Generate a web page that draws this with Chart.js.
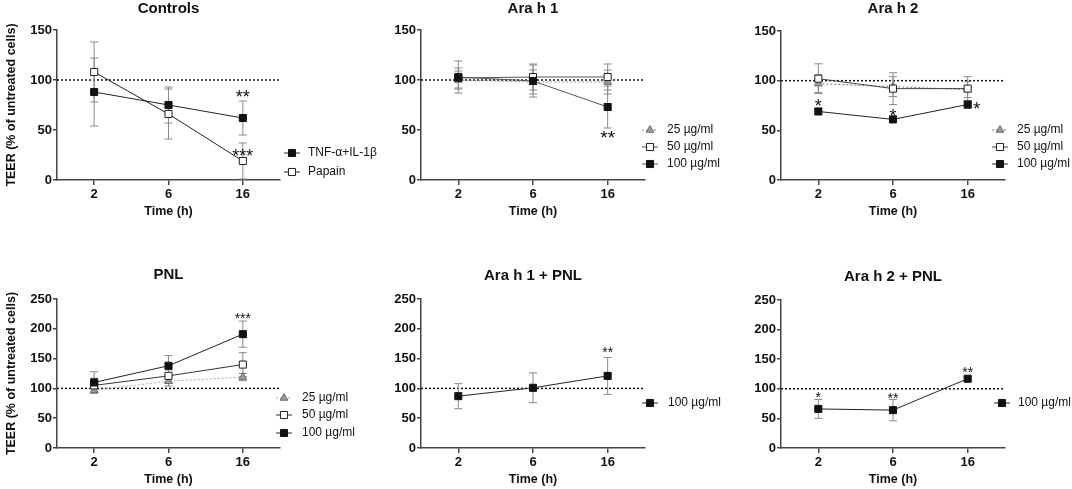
<!DOCTYPE html>
<html lang="en">
<head>
<meta charset="UTF-8">
<title>TEER time course</title>
<style>
  body { margin: 0; background: #ffffff; }
  #figure { position: relative; width: 1072px; height: 489px; overflow: hidden; }
  #figure canvas { position: absolute; }
</style>
<script src="https://cdn.jsdelivr.net/npm/chart.js"></script>
</head>
<body>
<div id="figure"></div>
<script>
// ---- data ----
const times = ['2', '6', '16'];
const ticksLow = [0, 50, 100, 150];
const ticksHigh = [0, 50, 100, 150, 200, 250];
const doseNames = ['25 µg/ml', '50 µg/ml', '100 µg/ml'];
const controlNames = ['TNF-α+IL-1β', 'Papain'];

// Controls
const ctrlTnf = [88, 75, 62];
const ctrlTnfSd = [34, 18, 17];
const ctrlPapain = [108, 66, 19];
const ctrlPapainSd = [30, 25, 18];

// Ara h 1
const ara1D25 = [100, 98, 98];
const ara1D25Sd = [9, 12, 12];
const ara1D50 = [102, 103, 103];
const ara1D50Sd = [10, 13, 13];
const ara1D100 = [103, 99, 73];
const ara1D100Sd = [16, 16, 21];

// Ara h 2
const ara2D25 = [97, 94, 91];
const ara2D25Sd = [9, 10, 8];
const ara2D50 = [102, 92, 92];
const ara2D50Sd = [15, 16, 12];
const ara2D100 = [69, 61, 76];
const ara2D100Sd = [3, 2, 4];

// PNL
const pnlD25 = [97, 112, 119];
const pnlD25Sd = [5, 8, 6];
const pnlD50 = [105, 121, 140];
const pnlD50Sd = [12, 10, 20];
const pnlD100 = [110, 138, 191];
const pnlD100Sd = [18, 17, 22];

// Ara h 1 + PNL, Ara h 2 + PNL (100 µg/ml)
const ara1Pnl = [87, 101, 121];
const ara1PnlSd = [21, 25, 31];
const ara2Pnl = [66, 64, 117];
const ara2PnlSd = [16, 18, 3];

// significance marks: category index, value, label
const starsControls = [[2, 87, '**'], [2, 28, '***']];
const starsAra1 = [[2, 47, '**']];
const starsAra2 = [[0, 79, '*'], [1, 69, '*'], [2, 76, '*']];
const starsPnl = [[2, 223, '***']];
const starsAra1Pnl = [[2, 166, '**']];
const starsAra2Pnl = [[0, 92, '*'], [1, 90, '**'], [2, 133, '**']];

// ---- styling ----
const FONT = '"Liberation Sans", Arial, sans-serif';
Chart.defaults.font.family = FONT;
const AXIS = '#444';
const INK = '#111';

const markers = {
  filled: { pointStyle: 'rect', pointRadius: 5, pointBackgroundColor: '#111', pointBorderColor: '#111' },
  open: { pointStyle: 'rect', pointRadius: 5, pointBackgroundColor: '#fff', pointBorderColor: '#222' },
  tri: { pointStyle: 'triangle', pointRadius: 4.5, pointBackgroundColor: '#9a9a9a', pointBorderColor: '#6e6e6e' }
};

function series(label, data, sd, marker, color, dash, order) {
  return Object.assign({
    label: label,
    data: data,
    errors: sd,
    borderColor: color,
    borderWidth: 1,
    borderDash: dash || [],
    pointBorderWidth: 1,
    pointHoverRadius: 5,
    tension: 0,
    fill: false,
    order: order
  }, markers[marker]);
}

// reference line, error bars, legend and asterisks
const extras = {
  id: 'extras',
  beforeDatasetsDraw(chart) {
    const { ctx, chartArea, scales: { x, y } } = chart;
    const y100 = y.getPixelForValue(100);
    ctx.save();
    ctx.strokeStyle = INK;
    ctx.lineWidth = 1.5;
    ctx.setLineDash([2, 2]);
    ctx.beginPath();
    ctx.moveTo(chartArea.left, y100);
    ctx.lineTo(chartArea.right, y100);
    ctx.stroke();
    ctx.setLineDash([]);

    ctx.strokeStyle = '#8a8a8a';
    ctx.lineWidth = 1;
    chart.data.datasets.forEach(ds => {
      ds.errors.forEach((e, j) => {
        const px = x.getPixelForValue(j);
        const top = y.getPixelForValue(ds.data[j] + e);
        const bot = y.getPixelForValue(ds.data[j] - e);
        ctx.beginPath();
        ctx.moveTo(px, top); ctx.lineTo(px, bot);
        ctx.moveTo(px - 4, top); ctx.lineTo(px + 4, top);
        ctx.moveTo(px - 4, bot); ctx.lineTo(px + 4, bot);
        ctx.stroke();
      });
    });
    ctx.restore();
  },
  afterDraw(chart, args, opts) {
    const { ctx, scales: { x, y } } = chart;
    ctx.save();
    // legend
    opts.legend.rows.forEach((ly, k) => {
      const ds = chart.data.datasets[opts.legend.items[k]];
      const lx = opts.legend.x;
      ctx.strokeStyle = ds.borderColor;
      ctx.lineWidth = 1;
      ctx.setLineDash(ds.borderDash);
      ctx.beginPath();
      ctx.moveTo(lx - 8, ly);
      ctx.lineTo(lx + 8, ly);
      ctx.stroke();
      ctx.setLineDash([]);
      ctx.fillStyle = ds.pointBackgroundColor;
      ctx.strokeStyle = ds.pointBorderColor;
      Chart.helpers.drawPoint(ctx, { pointStyle: ds.pointStyle, radius: ds.pointRadius, borderWidth: 1, rotation: 0 }, lx, ly);
      ctx.fillStyle = INK;
      ctx.font = '12px ' + FONT;
      ctx.textAlign = 'left';
      ctx.textBaseline = 'middle';
      ctx.fillText(ds.label, opts.legend.textX, ly);
    });
    // asterisks
    ctx.fillStyle = INK;
    ctx.textAlign = 'center';
    ctx.textBaseline = 'alphabetic';
    ctx.font = opts.starSize + 'px ' + FONT;
    opts.stars.forEach(([i, v, t]) => {
      const dx = (opts.starShift && opts.starShift[i]) || 0;
      ctx.fillText(t, x.getPixelForValue(i) + dx, y.getPixelForValue(v) + opts.starSize * 0.58);
    });
    ctx.restore();
  }
};

function panel(box, title, yMax, yTicks, yTitle, datasets, legend, stars, starSize, starShift) {
  const canvas = document.createElement('canvas');
  canvas.width = box.width;
  canvas.height = box.height;
  canvas.style.left = box.left + 'px';
  canvas.style.top = box.top + 'px';
  document.getElementById('figure').appendChild(canvas);

  const yAxisWidth = box.plotL - box.left;
  const xAxisHeight = box.top + box.height - box.plotB;
  const titleTop = Math.max(0, box.titleY - box.top - 9);
  const titleBottom = box.plotT - box.top - titleTop - 18;
  const xTitleBottom = box.top + box.height - box.xTitleY - 7.5;
  const tickFont = { size: 13, weight: 'bold' };
  const labelFont = { size: 12.5, weight: 'bold' };

  new Chart(canvas, {
    type: 'line',
    data: { labels: times, datasets: datasets },
    options: {
      responsive: false,
      animation: false,
      events: [],
      layout: { padding: { left: 0, right: box.left + box.width - box.plotR, top: 0, bottom: 0 } },
      plugins: {
        legend: { display: false },
        tooltip: { enabled: false },
        title: {
          display: true, text: title, fullSize: false, color: INK,
          font: { size: 15, weight: 'bold' },
          padding: { top: titleTop, bottom: titleBottom }
        },
        extras: {
          legend: {
            x: legend.x - box.left,
            textX: legend.textX - box.left,
            rows: legend.rows.map(r => r - box.top),
            items: legend.items
          },
          stars: stars,
          starSize: starSize,
          starShift: starShift
        }
      },
      scales: {
        x: {
          type: 'category',
          offset: true,
          grid: { drawOnChartArea: false, tickLength: 5, color: AXIS, lineWidth: 1.5 },
          border: { color: AXIS, width: 1.5 },
          ticks: { font: tickFont, color: INK, padding: 2, maxRotation: 0 },
          title: { display: true, text: 'Time (h)', font: labelFont, color: INK, padding: { top: 0, bottom: xTitleBottom } },
          afterFit: s => { s.height = xAxisHeight; }
        },
        y: {
          min: 0,
          max: yMax,
          afterBuildTicks: s => { s.ticks = yTicks.map(v => ({ value: v })); },
          grid: { drawOnChartArea: false, tickLength: 4, color: AXIS, lineWidth: 1.5 },
          border: { color: AXIS, width: 1.5 },
          ticks: { font: tickFont, color: INK, padding: 1 },
          title: { display: yTitle, text: 'TEER (% of untreated cells)', font: labelFont, color: INK, padding: { top: 4, bottom: 0 } },
          afterFit: s => { s.width = yAxisWidth; }
        }
      }
    },
    plugins: [extras]
  });
}

// ---- top row ----
panel({ left: 0, top: 0, width: 390, height: 230, plotL: 57, plotR: 280, plotT: 30, plotB: 180, titleY: 8, xTitleY: 212 },
  'Controls', 150, ticksLow, true,
  [series(controlNames[0], ctrlTnf, ctrlTnfSd, 'filled', '#222', null, 0),
   series(controlNames[1], ctrlPapain, ctrlPapainSd, 'open', '#222', null, 1)],
  { x: 292, textX: 308, rows: [153, 172], items: [0, 1] },
  starsControls, 18);

panel({ left: 360, top: 0, width: 380, height: 230, plotL: 421, plotR: 645, plotT: 30, plotB: 180, titleY: 8, xTitleY: 212 },
  'Ara h 1', 150, ticksLow, false,
  [series(doseNames[0], ara1D25, ara1D25Sd, 'tri', '#8a8a8a', [2, 2], 2),
   series(doseNames[1], ara1D50, ara1D50Sd, 'open', '#555', null, 1),
   series(doseNames[2], ara1D100, ara1D100Sd, 'filled', '#555', null, 0)],
  { x: 650, textX: 667, rows: [130, 147, 164], items: [0, 1, 2] },
  starsAra1, 19);

panel({ left: 712, top: 0, width: 360, height: 230, plotL: 781, plotR: 1005, plotT: 31, plotB: 180, titleY: 8, xTitleY: 212 },
  'Ara h 2', 150, ticksLow, false,
  [series(doseNames[0], ara2D25, ara2D25Sd, 'tri', '#777', [2, 2], 2),
   series(doseNames[1], ara2D50, ara2D50Sd, 'open', '#444', null, 1),
   series(doseNames[2], ara2D100, ara2D100Sd, 'filled', '#222', null, 0)],
  { x: 1000, textX: 1017, rows: [130, 147, 164], items: [0, 1, 2] },
  starsAra2, 18, [0, 0, 9]);

// ---- bottom row ----
panel({ left: 0, top: 240, width: 390, height: 249, plotL: 57, plotR: 280, plotT: 299, plotB: 448, titleY: 275, xTitleY: 480 },
  'PNL', 250, ticksHigh, true,
  [series(doseNames[0], pnlD25, pnlD25Sd, 'tri', '#aaa', [2, 2], 2),
   series(doseNames[1], pnlD50, pnlD50Sd, 'open', '#333', null, 1),
   series(doseNames[2], pnlD100, pnlD100Sd, 'filled', '#222', null, 0)],
  { x: 284, textX: 302, rows: [398, 415, 433], items: [0, 1, 2] },
  starsPnl, 14);

panel({ left: 360, top: 240, width: 380, height: 249, plotL: 421, plotR: 645, plotT: 299, plotB: 448, titleY: 276, xTitleY: 480 },
  'Ara h 1 + PNL', 250, ticksHigh, false,
  [series(doseNames[2], ara1Pnl, ara1PnlSd, 'filled', '#222', null, 0)],
  { x: 650, textX: 668, rows: [403], items: [0] },
  starsAra1Pnl, 14);

panel({ left: 712, top: 240, width: 360, height: 249, plotL: 781, plotR: 1005, plotT: 300, plotB: 448, titleY: 277, xTitleY: 480 },
  'Ara h 2 + PNL', 250, ticksHigh, false,
  [series(doseNames[2], ara2Pnl, ara2PnlSd, 'filled', '#222', null, 0)],
  { x: 1002, textX: 1018, rows: [403], items: [0] },
  starsAra2Pnl, 14);
</script>
</body>
</html>
